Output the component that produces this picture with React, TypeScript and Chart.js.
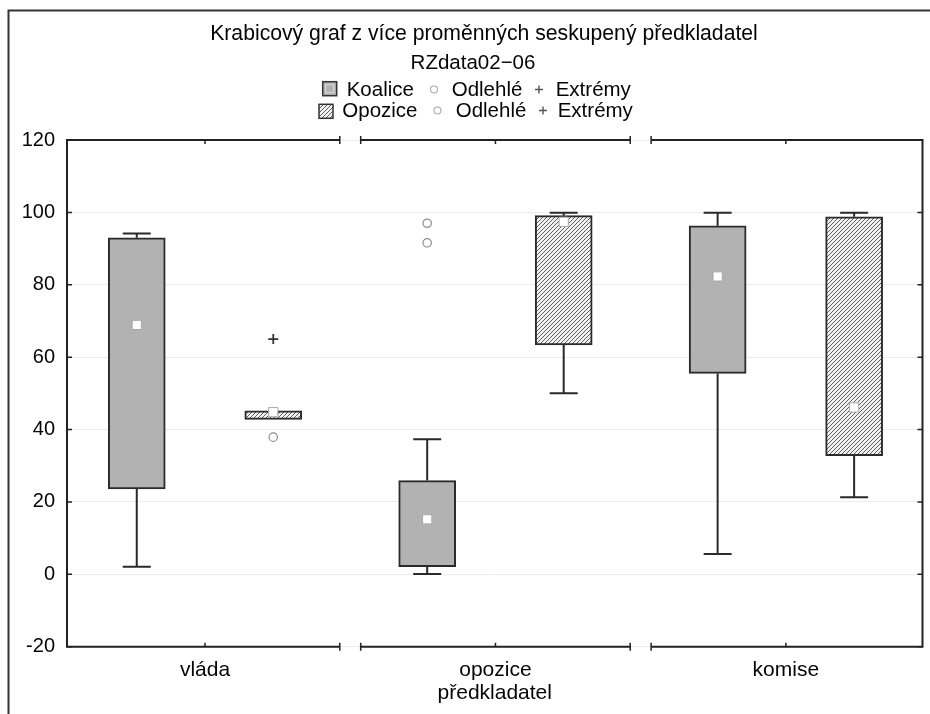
import React, { useEffect, useRef } from 'react';
import { Chart, registerables } from 'chart.js';

Chart.register(...registerables);

// ---------- data ----------
const categories = ['vláda', 'opozice', 'komise'];
const seriesNames = ['Koalice', 'Opozice'];

const koaliceMin = [2.1, 0.1, 5.6];
const koaliceQ1 = [23.6, 2.1, 55.5];
const koaliceMedian = [68.9, 15.2, 82.3];
const koaliceQ3 = [93.0, 25.9, 96.3];
const koaliceMax = [94.2, 37.3, 99.9];
const koaliceOutliers = [[], [97.0, 91.6], []];
const koaliceExtremes = [[], [], []];

const opoziceMin = [42.8, 50.0, 21.3];
const opoziceQ1 = [42.8, 63.4, 32.8];
const opoziceMedian = [44.8, 97.4, 46.1];
const opoziceQ3 = [45.2, 99.1, 98.8];
const opoziceMax = [45.2, 99.9, 99.9];
const opoziceOutliers = [[37.9], [], []];
const opoziceExtremes = [[65.0], [], []];

const yTickValues = [-20, 0, 20, 40, 60, 80, 100, 120];

const titleText = 'Krabicový graf z více proměnných seskupený předkladatel';
const subtitleText = 'RZdata02\u221206';
const xAxisTitle = 'předkladatel';
const outlierLabel = 'Odlehlé';
const extremeLabel = 'Extrémy';

// ---------- styling / layout constants ----------
const FONT = "'Liberation Sans', Arial, Helvetica, sans-serif";
const TEXT = '#050505';
const LINE = '#222';
const GROUP_OFFSET = 0.235;
const X_MIN = -0.4752;
const X_MAX = 2.4704;
const SEG_HALF = 0.464;
const BOX_PX = 57;
const CAP_HALF_PX = 14;

function makeHatch(): CanvasPattern | string {
  const s = 4;
  const c = document.createElement('canvas');
  c.width = s;
  c.height = s;
  const g = c.getContext('2d');
  if (!g) return '#bbb';
  g.fillStyle = '#f2f2f2';
  g.fillRect(0, 0, s, s);
  g.strokeStyle = '#5e5e5e';
  g.lineWidth = 1;
  g.beginPath();
  g.moveTo(-1, s + 1);
  g.lineTo(s + 1, -1);
  g.moveTo(-1, 1);
  g.lineTo(1, -1);
  g.moveTo(s - 1, s + 1);
  g.lineTo(s + 1, s - 1);
  g.stroke();
  return g.createPattern(c, 'repeat') || '#bbb';
}

export default function App() {
  const ref = useRef<HTMLCanvasElement>(null);

  useEffect(() => {
    const canvas = ref.current;
    if (!canvas) return;
    const hatch = makeHatch();

    const series = [
      {
        name: seriesNames[0], offset: -GROUP_OFFSET, fill: '#b2b2b2',
        min: koaliceMin, q1: koaliceQ1, med: koaliceMedian, q3: koaliceQ3, max: koaliceMax,
        outliers: koaliceOutliers, extremes: koaliceExtremes,
      },
      {
        name: seriesNames[1], offset: GROUP_OFFSET, fill: hatch,
        min: opoziceMin, q1: opoziceQ1, med: opoziceMedian, q3: opoziceQ3, max: opoziceMax,
        outliers: opoziceOutliers, extremes: opoziceExtremes,
      },
    ];

    const datasets: any[] = [];
    series.forEach((s) => {
      datasets.push({
        type: 'bar',
        label: s.name,
        data: categories.map((_, i) => ({ x: i + s.offset, y: [s.q1[i], s.q3[i]] })),
        backgroundColor: s.fill,
        borderColor: '#2a2a2a',
        borderWidth: 2,
        borderSkipped: false,
        grouped: false,
        categoryPercentage: 1,
        barPercentage: 1,
        maxBarThickness: BOX_PX,
        order: 5,
      });
      datasets.push({
        type: 'scatter',
        label: s.name + ' medián',
        data: categories.map((_, i) => ({ x: i + s.offset, y: s.med[i] })),
        pointStyle: 'rect',
        pointRadius: 6.5,
        backgroundColor: '#ffffff',
        borderColor: '#a8a8a8',
        borderWidth: 1,
        order: 1,
      });
      datasets.push({
        type: 'scatter',
        label: s.name + ' ' + outlierLabel,
        data: categories.flatMap((_, i) => s.outliers[i].map((v) => ({ x: i + s.offset, y: v }))),
        pointStyle: 'circle',
        pointRadius: 4.2,
        backgroundColor: '#ffffff',
        borderColor: '#8c8c8c',
        borderWidth: 1.2,
        order: 1,
      });
      datasets.push({
        type: 'scatter',
        label: s.name + ' ' + extremeLabel,
        data: categories.flatMap((_, i) => s.extremes[i].map((v) => ({ x: i + s.offset, y: v }))),
        pointStyle: 'cross',
        pointRadius: 5,
        borderColor: '#333',
        borderWidth: 1.8,
        order: 1,
      });
    });

    const boxPlugin = {
      id: 'boxDecor',
      beforeDraw(chart: any) {
        const ctx = chart.ctx;
        ctx.save();
        ctx.fillStyle = '#fff';
        ctx.fillRect(0, 0, chart.width, chart.height);
        ctx.restore();
      },
      beforeDatasetsDraw(chart: any) {
        const ctx = chart.ctx;
        const xs = chart.scales.x;
        const ys = chart.scales.y;
        ctx.save();
        ctx.strokeStyle = '#2a2a2a';
        ctx.lineWidth = 2;
        series.forEach((s) => {
          categories.forEach((_, i) => {
            const x = xs.getPixelForValue(i + s.offset);
            const yMin = ys.getPixelForValue(s.min[i]);
            const yQ1 = ys.getPixelForValue(s.q1[i]);
            const yQ3 = ys.getPixelForValue(s.q3[i]);
            const yMax = ys.getPixelForValue(s.max[i]);
            ctx.beginPath();
            if (s.max[i] > s.q3[i]) {
              ctx.moveTo(x, yQ3);
              ctx.lineTo(x, yMax);
              ctx.moveTo(x - CAP_HALF_PX, yMax);
              ctx.lineTo(x + CAP_HALF_PX, yMax);
            }
            if (s.min[i] < s.q1[i]) {
              ctx.moveTo(x, yQ1);
              ctx.lineTo(x, yMin);
              ctx.moveTo(x - CAP_HALF_PX, yMin);
              ctx.lineTo(x + CAP_HALF_PX, yMin);
            }
            ctx.stroke();
          });
        });
        ctx.restore();
      },
      afterDatasetsDraw(chart: any) {
        const ctx = chart.ctx;
        const { left, right, top, bottom } = chart.chartArea;
        const xs = chart.scales.x;
        const ys = chart.scales.y;
        ctx.save();
        ctx.strokeStyle = LINE;
        ctx.lineWidth = 2;
        ctx.beginPath();
        ctx.moveTo(left, top - 1);
        ctx.lineTo(left, bottom + 1);
        ctx.moveTo(right, top - 1);
        ctx.lineTo(right, bottom + 1);
        const last = categories.length - 1;
        categories.forEach((_, k) => {
          const x0 = k === 0 ? left : xs.getPixelForValue(k - SEG_HALF);
          const x1 = k === last ? right : xs.getPixelForValue(k + SEG_HALF);
          [top, bottom].forEach((y) => {
            ctx.moveTo(x0, y);
            ctx.lineTo(x1, y);
          });
        });
        ctx.stroke();
        ctx.lineWidth = 1.5;
        ctx.beginPath();
        categories.forEach((_, k) => {
          const x0 = k === 0 ? null : xs.getPixelForValue(k - SEG_HALF);
          const x1 = k === last ? null : xs.getPixelForValue(k + SEG_HALF);
          [top, bottom].forEach((y) => {
            [x0, x1].forEach((x) => {
              if (x === null) return;
              ctx.moveTo(x, y - 4);
              ctx.lineTo(x, y + 4);
            });
          });
          const xc = xs.getPixelForValue(k);
          ctx.moveTo(xc, top);
          ctx.lineTo(xc, top + 4);
          ctx.moveTo(xc, bottom);
          ctx.lineTo(xc, bottom - 4);
        });
        yTickValues.forEach((v) => {
          const y = ys.getPixelForValue(v);
          ctx.moveTo(left, y);
          ctx.lineTo(left + 5, y);
          ctx.moveTo(right, y);
          ctx.lineTo(right - 5, y);
        });
        ctx.stroke();
        ctx.restore();
      },
      afterDraw(chart: any) {
        const ctx = chart.ctx;
        ctx.save();
        // outer frame
        ctx.strokeStyle = '#333';
        ctx.lineWidth = 2;
        ctx.beginPath();
        ctx.moveTo(8.5, chart.height);
        ctx.lineTo(8.5, 10.5);
        ctx.lineTo(chart.width, 10.5);
        ctx.stroke();

        ctx.fillStyle = TEXT;
        ctx.textBaseline = 'alphabetic';
        ctx.textAlign = 'center';
        ctx.font = `21.2px ${FONT}`;
        ctx.fillText(titleText, 484, 40);
        ctx.font = `20.5px ${FONT}`;
        ctx.fillText(subtitleText, 473, 69);

        ctx.textAlign = 'left';
        const rows = [
          { base: 96, icon: [322.7, 81.7], label: 346.7, circ: 434, o: 451.7, plus: 539, e: 555.7, s: series[0] },
          { base: 117, icon: [319, 104.3], label: 342.3, circ: 437.5, o: 455.7, plus: 543, e: 557.7, s: series[1] },
        ];
        rows.forEach((r) => {
          const [ix, iy] = r.icon;
          ctx.fillStyle = r.s.fill as any;
          ctx.fillRect(ix, iy, 14, 14);
          ctx.strokeStyle = '#333';
          ctx.lineWidth = 1.5;
          ctx.strokeRect(ix, iy, 14, 14);
          if (r.s === series[0]) {
            ctx.strokeStyle = '#dcdcdc';
            ctx.lineWidth = 1;
            ctx.strokeRect(ix + 3, iy + 3, 8, 8);
          }
          ctx.fillStyle = TEXT;
          ctx.font = `20.5px ${FONT}`;
          ctx.fillText(r.s.name, r.label, r.base);
          ctx.fillText(outlierLabel, r.o, r.base);
          ctx.fillText(extremeLabel, r.e, r.base);
          const cy = r.base - 6.5;
          ctx.strokeStyle = '#a8a8a8';
          ctx.lineWidth = 1.1;
          ctx.beginPath();
          ctx.arc(r.circ, cy, 3.5, 0, Math.PI * 2);
          ctx.stroke();
          ctx.strokeStyle = '#555';
          ctx.lineWidth = 1.4;
          ctx.beginPath();
          ctx.moveTo(r.plus - 4, cy);
          ctx.lineTo(r.plus + 4, cy);
          ctx.moveTo(r.plus, cy - 4);
          ctx.lineTo(r.plus, cy + 4);
          ctx.stroke();
        });
        ctx.restore();
      },
    };

    const chart = new Chart(canvas, {
      type: 'bar',
      data: { datasets },
      options: {
        animation: false,
        responsive: false,
        devicePixelRatio: 1,
        layout: { padding: { top: 140, right: 2, left: 0, bottom: 0 } },
        plugins: {
          legend: { display: false },
          tooltip: { enabled: false },
          title: { display: false },
        },
        scales: {
          x: {
            type: 'linear',
            min: X_MIN,
            max: X_MAX,
            offset: false,
            grid: { display: false, drawTicks: false },
            border: { display: false },
            afterBuildTicks: (scale: any) => {
              scale.ticks = categories.map((_, i) => ({ value: i }));
            },
            afterFit: (scale: any) => {
              scale.height = 67.3;
            },
            ticks: {
              autoSkip: false,
              maxRotation: 0,
              padding: 11,
              color: TEXT,
              font: { size: 21, family: FONT },
              callback: (v: any) => categories[Math.round(Number(v))] ?? '',
            },
            title: {
              display: true,
              text: xAxisTitle,
              color: TEXT,
              font: { size: 21, family: FONT },
              padding: { top: 0, bottom: 8 },
            },
          },
          y: {
            type: 'linear',
            min: -20,
            max: 120,
            grid: { color: '#ececec', lineWidth: 1, drawTicks: false },
            border: { display: false },
            afterBuildTicks: (scale: any) => {
              scale.ticks = yTickValues.map((v) => ({ value: v }));
            },
            afterFit: (scale: any) => {
              scale.width = 67;
            },
            ticks: {
              padding: 12,
              color: TEXT,
              font: { size: 20, family: FONT },
            },
          },
        },
      },
      plugins: [boxPlugin],
    } as any);

    return () => chart.destroy();
  }, []);

  return (
    <div style={{ position: 'fixed', left: 0, top: 0, width: 930, height: 714, background: '#fff' }}>
      <canvas ref={ref} width={930} height={714} style={{ display: 'block', width: 930, height: 714 }} />
    </div>
  );
}
